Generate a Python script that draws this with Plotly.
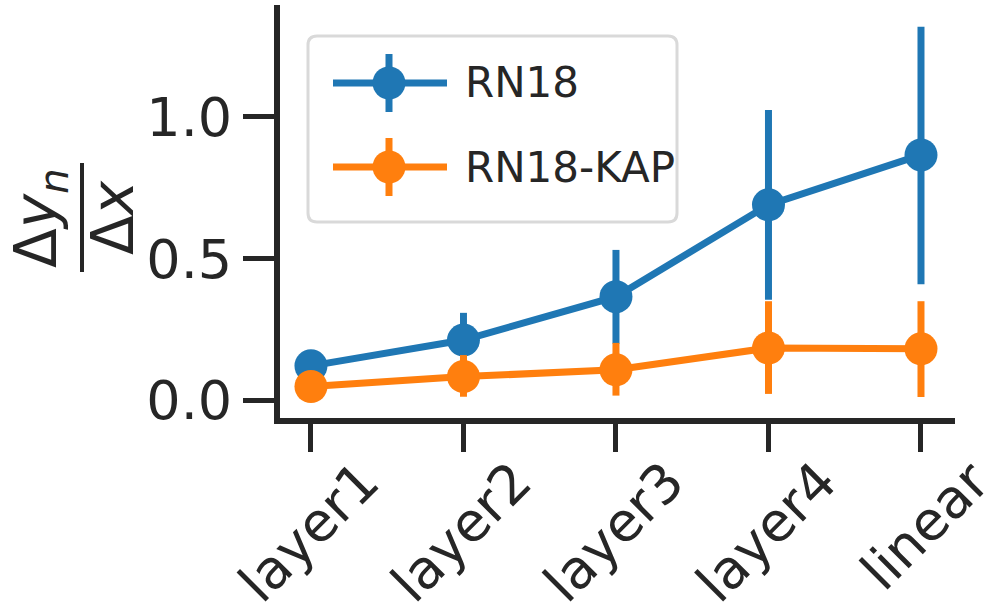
import plotly.graph_objects as go

categories = ["layer1", "layer2", "layer3", "layer4", "linear"]
rn18_mean = [0.122, 0.213, 0.366, 0.69, 0.866]
rn18_low = [0.10, 0.12, 0.20, 0.355, 0.41]
rn18_high = [0.145, 0.309, 0.531, 1.025, 1.318]
kap_mean = [0.049, 0.084, 0.108, 0.185, 0.182]
kap_low = [0.03, 0.013, 0.017, 0.023, 0.012]
kap_high = [0.07, 0.16, 0.203, 0.35, 0.35]
series_names = ["RN18", "RN18-KAP"]

BLUE = "#1f77b4"
ORANGE = "#ff7f0e"
INK = "#262626"
FONT = "DejaVu Sans"

W, H = 985, 615
L, R, T, B = 280, 955, 5, 418  # plot area in pixels


def px_x(px):
    return (px - L) / (R - L)


def px_y(py):
    return (B - py) / (B - T)


xi = list(range(len(categories)))

fig = go.Figure()
for name, mean, low, high, col in [
    (series_names[0], rn18_mean, rn18_low, rn18_high, BLUE),
    (series_names[1], kap_mean, kap_low, kap_high, ORANGE),
]:
    fig.add_trace(go.Scatter(
        x=xi, y=mean, name=name, mode="lines+markers",
        line=dict(color=col, width=7),
        marker=dict(color=col, size=33),
        error_y=dict(type="data", symmetric=False,
                     array=[h - m for h, m in zip(high, mean)],
                     arrayminus=[m - l for m, l in zip(mean, low)],
                     color=col, thickness=7, width=0),
        showlegend=False,
    ))

fig.update_layout(
    width=W, height=H,
    margin=dict(l=L, r=W - R, t=T, b=H - B, autoexpand=False),
    paper_bgcolor="white", plot_bgcolor="white",
    font=dict(family=FONT, color=INK, size=54),
    showlegend=False,
    xaxis=dict(
        range=[-0.203, 4.223], tickmode="array", tickvals=xi, ticktext=categories,
        showline=True, linecolor=INK, linewidth=6, mirror=False,
        ticks="outside", ticklen=28, tickwidth=5, tickcolor=INK,
        showgrid=False, zeroline=False, tickangle=-45, automargin=False,
        tickfont=dict(size=54, family=FONT, color=INK),
        ticklabelshift=52, ticklabelstandoff=-24, ticklabeloverflow="allow",
    ),
    yaxis=dict(
        range=[-0.062, 1.395], tickmode="array", tickvals=[0, 0.5, 1.0],
        ticktext=["0.0", "0.5", "1.0"], automargin=False,
        showline=True, linecolor=INK, linewidth=6, mirror=False,
        ticks="outside", ticklen=31, tickwidth=5, tickcolor=INK,
        showgrid=False, zeroline=False,
        tickfont=dict(size=54, family=FONT, color=INK),
    ),
)

# ---- legend box (drawn in pixel positions converted to paper coords) ----
x0, x1, y0, y1, r = 308, 677, 36, 222, 9
path = (f"M {px_x(x0 + r)},{px_y(y0)} L {px_x(x1 - r)},{px_y(y0)} "
        f"Q {px_x(x1)},{px_y(y0)} {px_x(x1)},{px_y(y0 + r)} "
        f"L {px_x(x1)},{px_y(y1 - r)} Q {px_x(x1)},{px_y(y1)} {px_x(x1 - r)},{px_y(y1)} "
        f"L {px_x(x0 + r)},{px_y(y1)} Q {px_x(x0)},{px_y(y1)} {px_x(x0)},{px_y(y1 - r)} "
        f"L {px_x(x0)},{px_y(y0 + r)} Q {px_x(x0)},{px_y(y0)} {px_x(x0 + r)},{px_y(y0)} Z")
fig.add_shape(type="path", path=path, xref="paper", yref="paper",
              fillcolor="rgba(255,255,255,0.8)", line=dict(color="#d9d9d9", width=3))

for name, col, cy in [(series_names[0], BLUE, 83), (series_names[1], ORANGE, 167)]:
    fig.add_shape(type="line", xref="paper", yref="paper",
                  x0=px_x(333), x1=px_x(447), y0=px_y(cy), y1=px_y(cy),
                  line=dict(color=col, width=7))
    fig.add_shape(type="line", xref="paper", yref="paper",
                  x0=px_x(389), x1=px_x(389), y0=px_y(cy - 29), y1=px_y(cy + 29),
                  line=dict(color=col, width=7))
    fig.add_shape(type="circle", xref="paper", yref="paper",
                  x0=px_x(389 - 16.5), x1=px_x(389 + 16.5),
                  y0=px_y(cy - 16.5), y1=px_y(cy + 16.5),
                  fillcolor=col, line=dict(color=col, width=0))
    fig.add_annotation(text=name, xref="paper", yref="paper",
                       x=px_x(463), y=px_y(cy), xanchor="left", yanchor="middle",
                       showarrow=False, font=dict(size=42, family=FONT, color=INK))

# ---- y-axis label as a fraction: Δy_n / Δx ----
fig.add_annotation(text="Δ<i>y</i><sub><i>n</i></sub>", xref="paper", yref="paper",
                   x=px_x(40), y=px_y(218), xanchor="center", yanchor="middle",
                   textangle=-90, showarrow=False,
                   font=dict(size=58, family=FONT, color=INK))
fig.add_annotation(text="Δ<i>x</i>", xref="paper", yref="paper",
                   x=px_x(113), y=px_y(218), xanchor="center", yanchor="middle",
                   textangle=-90, showarrow=False,
                   font=dict(size=58, family=FONT, color=INK))
fig.add_shape(type="line", xref="paper", yref="paper",
              x0=px_x(82), x1=px_x(82), y0=px_y(163), y1=px_y(272),
              line=dict(color=INK, width=4))

fig.write_html("out.html", config={"displayModeBar": False},
               post_script="document.body.style.margin='0';")
